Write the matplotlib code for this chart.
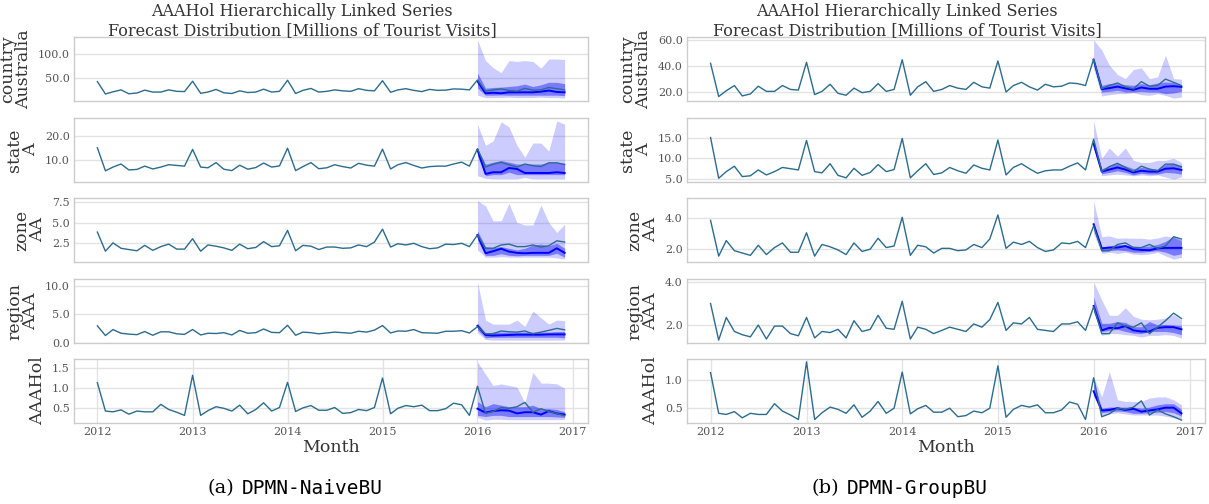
import numpy as np
import pandas as pd
import matplotlib
matplotlib.use('Agg')
import matplotlib.pyplot as plt
import matplotlib.dates as mdates
from matplotlib.ticker import FormatStrFormatter

plt.rcParams['font.family'] = 'DejaVu Serif'

months = pd.date_range('2012-01-01', periods=60, freq='MS')
fc_months = months[-12:]

level_names = ['country\nAustralia', 'state\nA', 'zone\nAA', 'region\nAAA', 'AAAHol']

# observed series (2012-01 .. 2016-12)
country = [42.2, 16.5, 21, 25, 17, 18.5, 24.5, 20.5, 20.5, 25, 22, 21.5,
           43, 18, 20.5, 26, 19, 17.5, 23, 19.5, 20.5, 26.5, 20.5, 22,
           45, 17.5, 24, 28, 20.5, 22, 25, 23, 22, 27.5, 24, 23,
           44, 20, 25, 27.5, 24, 21.5, 26, 24, 24.5, 27, 26.5, 25,
           45.5, 22.5, 25, 27, 24, 22.5, 28, 24.5, 25, 30, 27.5, 25]
state = [15, 5.2, 6.8, 8.1, 5.6, 5.8, 7.2, 6.0, 6.8, 7.8, 7.5, 7.2,
         14.3, 6.8, 6.5, 8.7, 5.9, 5.3, 7.6, 5.9, 6.6, 8.5, 6.8, 7.3,
         14.8, 5.3, 7.0, 8.7, 6.1, 6.5, 7.8, 7.0, 6.4, 8.4, 7.6, 7.2,
         14.4, 6.0, 7.8, 8.7, 7.5, 6.4, 7.0, 7.2, 7.2, 8.1, 8.9, 7.2,
         14.6, 6.8, 8.0, 8.8, 7.8, 6.8, 8.1, 7.4, 7.0, 8.6, 8.6, 7.9]
zone = [3.85, 1.55, 2.55, 1.9, 1.75, 1.6, 2.25, 1.65, 2.1, 2.4, 1.8, 1.8,
        3.05, 1.55, 2.3, 2.15, 1.95, 1.65, 2.4, 1.85, 2.0, 2.7, 2.1, 2.2,
        4.05, 1.6, 2.25, 2.15, 1.75, 2.05, 2.05, 1.9, 1.95, 2.3, 2.1, 2.65,
        4.2, 2.05, 2.45, 2.3, 2.5, 2.1, 1.85, 1.95, 2.4, 2.35, 2.5, 2.1,
        3.5, 1.9, 1.9, 2.3, 2.4, 2.1, 2.1, 2.3, 2.05, 2.2, 2.8, 2.65]
region = [3.0, 1.3, 2.35, 1.7, 1.55, 1.45, 2.0, 1.35, 1.95, 1.95, 1.6, 1.5,
          2.35, 1.4, 1.7, 1.65, 1.8, 1.4, 2.2, 1.7, 1.8, 2.45, 1.85, 1.8,
          3.1, 1.35, 1.9, 1.8, 1.6, 1.75, 1.9, 1.8, 1.7, 2.05, 1.9, 2.25,
          3.05, 1.75, 2.1, 2.05, 2.35, 1.8, 1.75, 1.7, 2.05, 2.05, 2.15, 1.75,
          2.85, 1.6, 1.6, 2.1, 1.95, 1.9, 2.1, 1.6, 1.9, 2.2, 2.55, 2.3]
aaahol = [1.13, 0.41, 0.39, 0.44, 0.33, 0.41, 0.39, 0.39, 0.58, 0.45, 0.38, 0.30,
          1.32, 0.30, 0.42, 0.52, 0.48, 0.41, 0.56, 0.34, 0.45, 0.62, 0.41, 0.50,
          1.14, 0.40, 0.49, 0.55, 0.43, 0.43, 0.50, 0.35, 0.37, 0.45, 0.42, 0.50,
          1.25, 0.34, 0.48, 0.55, 0.52, 0.56, 0.42, 0.42, 0.47, 0.61, 0.57, 0.30,
          1.04, 0.35, 0.40, 0.50, 0.48, 0.52, 0.63, 0.38, 0.47, 0.40, 0.35, 0.29]

# DPMN-NaiveBU forecasts (2016-01 .. 2016-12): median, 50% band, outer band
naive_country_med = [43, 18, 19, 18, 20, 20, 20, 20, 21.4, 23.6, 20.7, 20]
naive_country_lo50 = [29, 14, 14, 14.5, 14, 14, 14, 14, 14, 14, 14, 13]
naive_country_hi50 = [60, 28.6, 30, 30.7, 32, 33.6, 37, 32, 35.7, 40.7, 40.7, 38]
naive_country_lo = [14, 9, 9, 9, 10, 9, 9, 9, 10, 9, 9, 8]
naive_country_hi = [128.6, 85.7, 71, 60.7, 85.7, 84, 85.7, 84, 70, 89, 89, 88]

naive_state_med = [14.1, 3.9, 4.6, 4.6, 6.4, 6.0, 4.3, 4.3, 4.3, 4.3, 4.6, 4.3]
naive_state_lo50 = [11.7, 3.1, 3.6, 3.6, 4.6, 3.6, 3.6, 3.6, 3.6, 3.6, 3.6, 3.6]
naive_state_hi50 = [14.6, 8.1, 8.9, 9.6, 8.9, 8.1, 8.1, 8.1, 8.1, 8.9, 8.9, 8.4]
naive_state_lo = [3.1, 2.0, 1.7, 1.7, 1.7, 1.7, 2.4, 1.7, 1.7, 1.7, 1.7, 1.7]
naive_state_hi = [25, 16, 17.9, 26, 23.9, 16, 11, 17, 17, 13.6, 26.4, 25]

naive_zone_med = [3.5, 1.3, 1.55, 1.85, 1.5, 1.35, 1.3, 1.35, 1.35, 1.35, 1.9, 1.35]
naive_zone_lo50 = [2.9, 1.04, 1.05, 1.25, 1.05, 1.0, 1.05, 1.05, 1.05, 1.05, 1.3, 0.83]
naive_zone_hi50 = [4.0, 2.1, 2.0, 2.1, 1.9, 1.7, 1.9, 2.3, 2.4, 2.2, 2.5, 1.9]
naive_zone_lo = [1.7, 0.83, 0.83, 0.9, 0.83, 0.83, 0.83, 0.83, 0.83, 0.83, 0.75, 0.6]
naive_zone_hi = [7.6, 7.0, 5.2, 5.2, 7.3, 5.0, 4.7, 4.7, 7.1, 5.0, 3.8, 4.8]

naive_region_med = [3.0, 1.4, 1.3, 1.35, 1.4, 1.45, 1.45, 1.45, 1.45, 1.5, 1.5, 1.5]
naive_region_lo50 = [2.3, 0.9, 1.0, 1.0, 1.0, 1.0, 1.0, 1.0, 1.0, 1.0, 1.0, 0.9]
naive_region_hi50 = [3.5, 1.7, 1.9, 1.9, 1.9, 1.9, 1.9, 1.9, 1.9, 1.9, 2.0, 2.0]
naive_region_lo = [1.8, 0.6, 0.5, 0.5, 0.5, 0.5, 0.5, 0.5, 0.5, 0.5, 0.5, 0.5]
naive_region_hi = [10.7, 4.0, 3.3, 3.3, 3.3, 4.0, 2.9, 5.6, 4.4, 3.3, 4.0, 3.9]

naive_hol_med = [0.47, 0.37, 0.41, 0.43, 0.42, 0.35, 0.38, 0.38, 0.32, 0.41, 0.35, 0.32]
naive_hol_lo50 = [0.30, 0.27, 0.30, 0.30, 0.27, 0.27, 0.27, 0.27, 0.27, 0.27, 0.26, 0.25]
naive_hol_hi50 = [0.65, 0.52, 0.60, 0.56, 0.52, 0.52, 0.52, 0.56, 0.47, 0.47, 0.45, 0.39]
naive_hol_lo = [0.25, 0.18, 0.20, 0.20, 0.19, 0.19, 0.19, 0.19, 0.19, 0.19, 0.19, 0.20]
naive_hol_hi = [1.66, 1.35, 1.06, 1.10, 1.06, 1.02, 0.62, 1.40, 1.12, 1.12, 1.10, 0.99]

# DPMN-GroupBU forecasts
group_country_med = [45, 22.2, 23, 24.2, 22.8, 21.7, 23.5, 22.5, 22.5, 24.2, 24.5, 24]
group_country_lo50 = [41, 20, 20.5, 21.3, 20, 20, 20.5, 20, 20, 18.7, 19.3, 20.5]
group_country_hi50 = [46, 25.2, 26.5, 26.5, 25.7, 25.2, 26.5, 25.7, 27, 27.8, 27.3, 25.2]
group_country_lo = [38, 16.9, 17.9, 18.7, 18.7, 19.5, 17.9, 17.4, 18.7, 17.4, 15.3, 16.1]
group_country_hi = [60.3, 52.5, 40.8, 33.5, 30.4, 37.4, 38.7, 30.4, 31.7, 48.6, 30.4, 29.9]

group_state_med = [13.5, 6.8, 7.3, 7.8, 7.3, 6.6, 7.0, 6.8, 6.8, 7.5, 7.6, 7.2]
group_state_lo50 = [12.5, 6.3, 6.6, 7.0, 6.6, 6.0, 6.4, 6.2, 6.2, 6.6, 6.5, 6.2]
group_state_hi50 = [14.5, 7.5, 8.2, 8.8, 8.2, 7.5, 7.8, 7.6, 7.4, 8.5, 8.8, 8.3]
group_state_lo = [13, 5.8, 6.0, 6.2, 6.0, 5.8, 6.0, 5.8, 6.0, 5.5, 5.0, 5.5]
group_state_hi = [19, 10, 12.5, 10.5, 12.5, 9.5, 9.0, 9.0, 9.5, 9.5, 10, 9.0]

group_zone_med = [3.6, 2.05, 2.1, 2.1, 2.2, 2.0, 1.95, 1.93, 2.05, 2.08, 2.08, 2.08]
group_zone_lo50 = [3.2, 1.85, 1.9, 1.95, 1.9, 1.8, 1.8, 1.85, 1.9, 1.8, 1.6, 1.7]
group_zone_hi50 = [3.7, 2.15, 2.2, 2.3, 2.25, 2.2, 2.15, 2.2, 2.3, 2.5, 2.8, 2.6]
group_zone_lo = [3.0, 1.72, 1.8, 1.72, 1.8, 1.68, 1.64, 1.68, 1.8, 1.57, 1.36, 1.47]
group_zone_hi = [5.1, 2.8, 2.85, 2.7, 2.72, 2.7, 2.7, 2.64, 2.72, 2.85, 2.75, 2.5]

group_region_med = [2.88, 1.75, 1.87, 1.85, 1.95, 1.75, 1.7, 1.7, 1.87, 1.9, 1.9, 1.8]
group_region_lo50 = [2.6, 1.7, 1.75, 1.8, 1.7, 1.62, 1.6, 1.7, 1.7, 1.7, 1.65, 1.55]
group_region_hi50 = [3.3, 2.08, 2.08, 2.16, 2.12, 1.92, 1.92, 2.16, 2.0, 2.03, 2.0, 1.97]
group_region_lo = [2.6, 1.52, 1.6, 1.6, 1.55, 1.52, 1.44, 1.52, 1.52, 1.55, 1.52, 1.39]
group_region_hi = [4.0, 3.16, 2.45, 2.45, 2.8, 2.4, 2.27, 2.24, 2.27, 2.32, 2.48, 2.24]

group_hol_med = [0.80, 0.46, 0.47, 0.50, 0.47, 0.49, 0.44, 0.46, 0.48, 0.51, 0.51, 0.41]
group_hol_lo50 = [0.72, 0.42, 0.44, 0.45, 0.44, 0.41, 0.41, 0.42, 0.43, 0.44, 0.42, 0.36]
group_hol_hi50 = [0.95, 0.50, 0.52, 0.52, 0.52, 0.52, 0.50, 0.52, 0.56, 0.58, 0.58, 0.48]
group_hol_lo = [0.75, 0.38, 0.40, 0.42, 0.40, 0.38, 0.38, 0.38, 0.38, 0.36, 0.33, 0.30]
group_hol_hi = [1.05, 0.70, 1.15, 0.65, 0.62, 0.62, 0.62, 0.68, 0.70, 0.70, 0.65, 0.56]

naive_yticks = [[50, 100], [10, 20], [2.5, 5.0, 7.5], [0, 5, 10], [0.5, 1.0, 1.5]]
group_yticks = [[20, 40, 60], [5, 10, 15], [2, 4], [2, 4], [0.5, 1.0]]

actuals = [country, state, zone, region, aaahol]
naive_fc = [
    (naive_country_med, naive_country_lo50, naive_country_hi50, naive_country_lo, naive_country_hi),
    (naive_state_med, naive_state_lo50, naive_state_hi50, naive_state_lo, naive_state_hi),
    (naive_zone_med, naive_zone_lo50, naive_zone_hi50, naive_zone_lo, naive_zone_hi),
    (naive_region_med, naive_region_lo50, naive_region_hi50, naive_region_lo, naive_region_hi),
    (naive_hol_med, naive_hol_lo50, naive_hol_hi50, naive_hol_lo, naive_hol_hi),
]
group_fc = [
    (group_country_med, group_country_lo50, group_country_hi50, group_country_lo, group_country_hi),
    (group_state_med, group_state_lo50, group_state_hi50, group_state_lo, group_state_hi),
    (group_zone_med, group_zone_lo50, group_zone_hi50, group_zone_lo, group_zone_hi),
    (group_region_med, group_region_lo50, group_region_hi50, group_region_lo, group_region_hi),
    (group_hol_med, group_hol_lo50, group_hol_hi50, group_hol_lo, group_hol_hi),
]

W, H = 1209, 504
fig = plt.figure(figsize=(W / 100, H / 100), dpi=100)

row_bottoms = [101, 182, 262, 343, 423]
row_h = 64
actual_color = '#2b6c8e'
text_color = '#333333'


def draw_panel(left, width, cx, fc, yticks, tag, name):
    axes = []
    for i in range(5):
        ax = fig.add_axes([left / W, 1 - row_bottoms[i] / H, width / W, row_h / H])
        med, lo50, hi50, lo, hi = fc[i]
        ax.fill_between(fc_months, lo, hi, color='blue', alpha=0.2, lw=0)
        ax.fill_between(fc_months, lo50, hi50, color='blue', alpha=0.4, lw=0)
        ax.plot(fc_months, med, color='blue', lw=1.4, zorder=3)
        ax.plot(months, actuals[i], color=actual_color, lw=1.0, zorder=4)
        ax.set_yticks(yticks[i])
        ax.yaxis.set_major_formatter(FormatStrFormatter('%.1f'))
        ax.grid(axis='y', color='#e3e3e3', lw=1.0)
        ax.set_axisbelow(True)
        for s in ax.spines.values():
            s.set_color('#cccccc')
            s.set_linewidth(1.0)
        ax.tick_params(length=0, labelsize=8, colors='#555555', pad=3)
        ax.set_ylabel(level_names[i], fontsize=12.5, color=text_color, labelpad=4, linespacing=0.95)
        ax.xaxis.set_major_locator(mdates.YearLocator())
        ax.xaxis.set_major_formatter(mdates.DateFormatter('%Y'))
        if i < 4:
            ax.tick_params(labelbottom=False)
        else:
            ax.grid(axis='x', color='#e3e3e3', lw=1.0)
            ax.set_xlabel('Month', fontsize=12.5, color=text_color, labelpad=1)
        axes.append(ax)
    fig.text(cx / W, 1 - 3 / H, 'AAAHol Hierarchically Linked Series\nForecast Distribution [Millions of Tourist Visits]',
             ha='center', va='top', fontsize=11.5, color=text_color, linespacing=1.15)
    fig.text((cx - 68) / W, 1 - 488 / H, tag, ha='right', va='center', fontsize=14, color='black')
    fig.text((cx - 60) / W, 1 - 488 / H, name, ha='left', va='center', fontsize=14,
             family='DejaVu Sans Mono', color='black')
    return axes


draw_panel(74, 514, 302, naive_fc, naive_yticks, '(a)', 'DPMN-NaiveBU')
draw_panel(687, 518, 907, group_fc, group_yticks, '(b)', 'DPMN-GroupBU')

fig.savefig('out.png', dpi=100)
